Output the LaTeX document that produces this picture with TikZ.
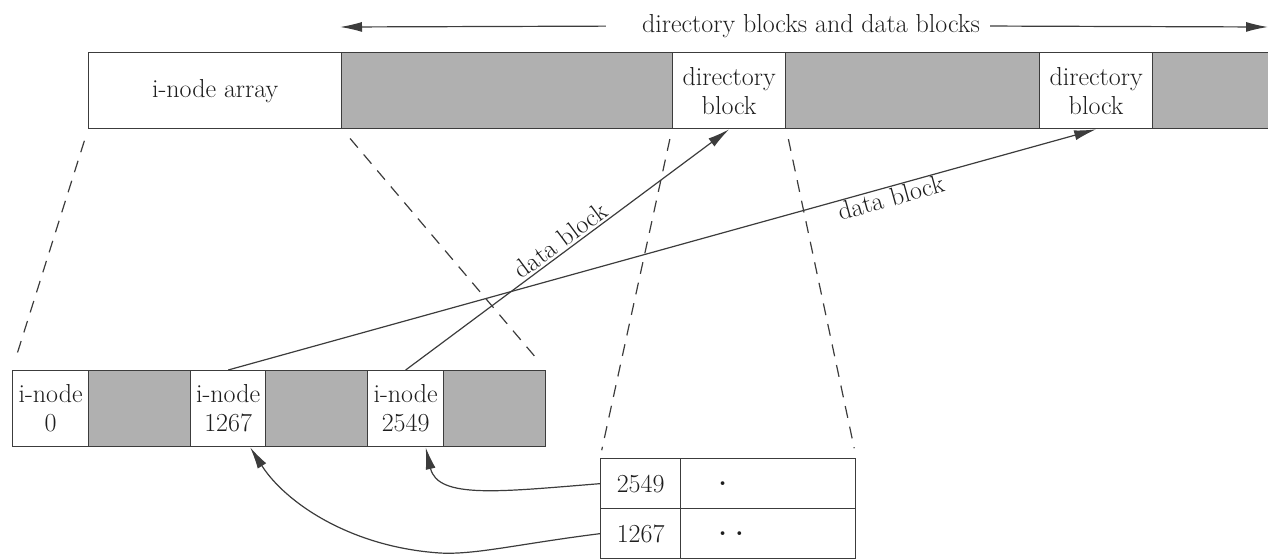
\documentclass[tikz,border=0pt]{standalone}
\usetikzlibrary{arrows.meta,calc}
\definecolor{linec}{RGB}{60,60,60}
\definecolor{grayc}{RGB}{176,176,176}
\definecolor{textc}{RGB}{30,30,30}
\begin{document}
\begin{tikzpicture}[x=1pt,y=-1pt,
  txt/.style={font=\fontsize{26}{29}\selectfont, text=textc},
  cell/.style={txt, draw=linec, line width=1.3pt, anchor=north west, inner sep=0pt, align=center, fill=white},
  gcell/.style={cell, fill=grayc},
  dashln/.style={draw=linec, line width=1.2pt, dash pattern=on 12pt off 9pt},
  arr/.style={draw=linec, line width=1.2pt, -{Latex[length=22pt,width=10pt]}},
  lbl/.style={txt, inner sep=2pt}
]
\useasboundingbox (0,0) rectangle (1268,558);
% top bar
\node[cell, minimum width=253pt, minimum height=76pt] (ia) at (88,52) {i-node array};
\node[gcell, minimum width=331pt, minimum height=76pt] (g1) at (341,52) {};
\node[cell, minimum width=113pt, minimum height=76pt] (d1) at (672,52) {directory\\block};
\node[gcell, minimum width=254pt, minimum height=76pt] (g2) at (785,52) {};
\node[cell, minimum width=113pt, minimum height=76pt] (d2) at (1039,52) {directory\\block};
\node[gcell, minimum width=130pt, minimum height=76pt] (g3) at (1152,52) {};
% top arrow
\node[txt, inner sep=0pt] (tt) at (811,26) {directory blocks and data blocks};
\coordinate (la) at (340,27);
\coordinate (ra) at (1268,27);
\draw[arr, shorten <=36pt] (tt.west) -- (la);
\draw[arr, shorten <=10pt] (tt.east) -- (ra);
% bottom bar
\node[cell, minimum width=76pt, minimum height=76pt] (n0) at (12,370) {i-node\\0};
\node[gcell, minimum width=102pt, minimum height=76pt] (b1) at (88,370) {};
\node[cell, minimum width=75pt, minimum height=76pt] (n1267) at (190,370) {i-node\\1267};
\node[gcell, minimum width=102pt, minimum height=76pt] (b2) at (265,370) {};
\node[cell, minimum width=76pt, minimum height=76pt] (n2549) at (367,370) {i-node\\2549};
\node[gcell, minimum width=102pt, minimum height=76pt] (b3) at (443,370) {};
% directory table
\node[cell, minimum width=80pt, minimum height=50pt] (t1a) at (600,458) {2549};
\node[cell, text width=99pt, inner xsep=38pt, align=left, minimum height=50pt] (t1b) at (680,458) {\textbf{.}};
\node[cell, minimum width=80pt, minimum height=50pt] (t2a) at (600,508) {1267};
\node[cell, text width=99pt, inner xsep=38pt, align=left, minimum height=50pt] (t2b) at (680,508) {\textbf{.\,\,.}};
% dashed projections
\draw[dashln, shorten <=12pt, shorten >=10pt] (ia.south west) -- (n0.north west);
\draw[dashln, shorten <=12pt, shorten >=10pt] (ia.south east) -- (b3.north east);
\draw[dashln, shorten <=10pt, shorten >=8pt] (d1.south west) -- (t1a.north west);
\draw[dashln, shorten <=10pt, shorten >=10pt] (d1.south east) -- (t1b.north east);
% data block arrows
\draw[arr] (n2549.north) -- node[lbl, sloped, above, midway] {data block} (d1.south);
\draw[arr] (n1267.north) -- node[lbl, sloped, below, pos=0.76, inner sep=1pt] {data block} (d2.south);
% curved arrows
\draw[arr] (t1a.west) .. controls +(-100,8) and +(12,52) .. ([xshift=20pt]n2549.south);
\coordinate (c2) at (440,553);
\draw[arr] (t2a.west) .. controls +(-80,10) and +(35,2) .. (c2) .. controls +(-90,-6) and +(35,55) .. ([xshift=22pt]n1267.south);
\end{tikzpicture}
\end{document}
